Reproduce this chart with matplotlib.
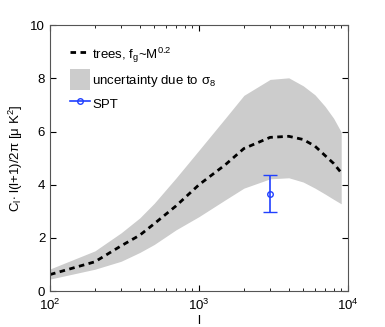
import numpy as np
import matplotlib
matplotlib.use("Agg")
import matplotlib.pyplot as plt
from matplotlib.lines import Line2D
from matplotlib.patches import Patch
from matplotlib.ticker import LogLocator, NullFormatter

plt.rcParams['font.family'] = ['Liberation Sans', 'DejaVu Sans']
plt.rcParams['mathtext.fontset'] = 'custom'
plt.rcParams['mathtext.rm'] = 'Liberation Sans'
plt.rcParams['mathtext.it'] = 'Liberation Sans'

# multipole values and model curves
ell = [100, 200, 300, 400, 500, 700, 1000, 1500, 2000, 3000, 4000, 5000, 6000, 7000, 8000, 9000]
trees = [0.62, 1.1, 1.7, 2.1, 2.53, 3.2, 4.0, 4.75, 5.36, 5.78, 5.82, 5.7, 5.45, 5.1, 4.8, 4.45]
band_hi = [0.83, 1.51, 2.19, 2.75, 3.3, 4.25, 5.3, 6.5, 7.36, 7.96, 8.02, 7.72, 7.38, 6.95, 6.5, 5.98]
band_lo = [0.45, 0.82, 1.12, 1.45, 1.75, 2.3, 2.8, 3.43, 3.87, 4.22, 4.26, 4.1, 3.87, 3.65, 3.45, 3.28]

spt_l = [3000]
spt_val = [3.66]
spt_err = [0.7]

blue = '#2040ff'
dash = (0, (2, 1.6))

fig = plt.figure(figsize=(3.85, 3.27), dpi=100)
ax = fig.add_axes([0.13, 0.11, 0.774, 0.813])

ax.fill_between(ell, band_lo, band_hi, color='#cccccc', linewidth=0)
ax.plot(ell, trees, color='black', linestyle=dash, linewidth=2)
ax.errorbar(spt_l, spt_val, yerr=spt_err, color=blue, marker='o',
            markersize=4, markerfacecolor='none', capsize=5, linewidth=1.2)

ax.set_xscale('log')
ax.set_xlim(100, 10000)
ax.set_ylim(0, 10)
ax.set_yticks([0, 2, 4, 6, 8, 10])
ax.xaxis.set_minor_locator(LogLocator(base=10, subs=np.arange(2, 10)))
ax.xaxis.set_minor_formatter(NullFormatter())
ax.tick_params(which='both', direction='in', top=True, right=True, labelsize=9.5)
ax.tick_params(which='major', length=4)
ax.tick_params(which='minor', length=2)
ax.tick_params(axis='x', pad=5)
for s in ax.spines.values():
    s.set_color('#555555')

ax.set_xlabel('l', fontsize=9.5, labelpad=1)
ax.set_ylabel(r'C$_l$$\cdot$ l(l+1)/2$\pi$ [$\mu$ K$^2$]', fontsize=9.5, labelpad=4)

handles = [
    Line2D([], [], color='black', linestyle=dash, linewidth=2),
    Patch(facecolor='#cccccc', edgecolor='none'),
    Line2D([], [], color=blue, marker='o', markersize=4, markerfacecolor='none', linewidth=1.2),
]
labels = [r'trees, f$_g$~M$^{0.2}$', r'uncertainty due to $\sigma_8$', 'SPT']
ax.legend(handles, labels, loc='upper left', frameon=False, fontsize=9.5,
          handlelength=1.5, handletextpad=0.2, labelspacing=0.3,
          borderaxespad=1.1, handleheight=2.0)

fig.savefig('out.png', dpi=100)
